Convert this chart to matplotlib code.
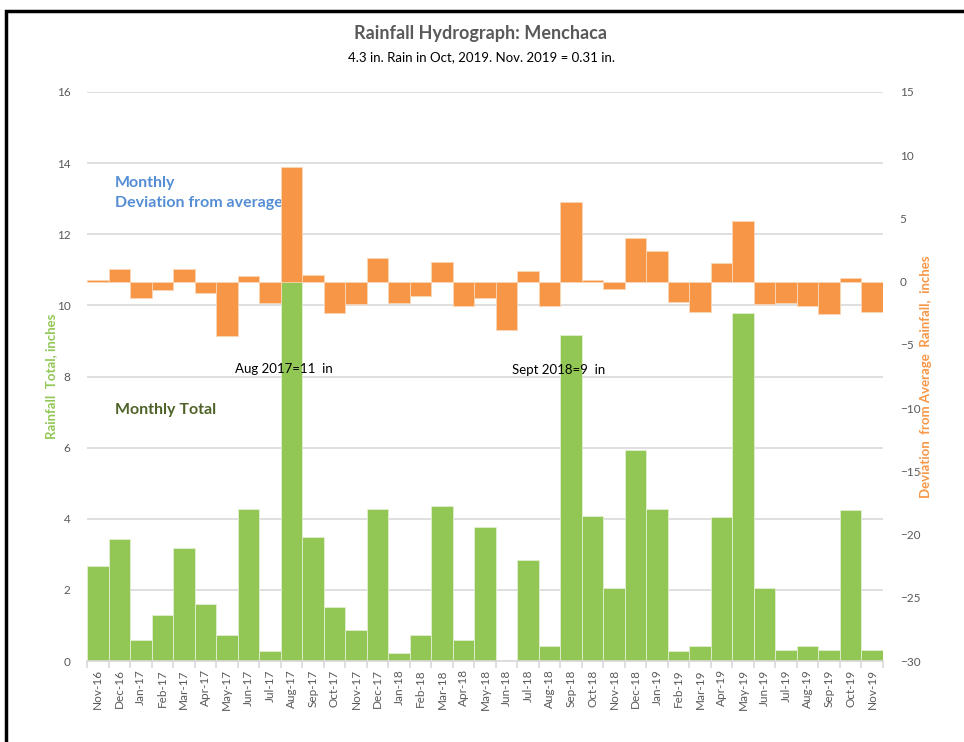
import numpy as np
import matplotlib.pyplot as plt
from matplotlib.patches import Rectangle

plt.rcParams['font.family'] = ['Lato', 'DejaVu Sans']

# 数据
months = ['Nov-16', 'Dec-16', 'Jan-17', 'Feb-17', 'Mar-17', 'Apr-17', 'May-17', 'Jun-17',
          'Jul-17', 'Aug-17', 'Sep-17', 'Oct-17', 'Nov-17', 'Dec-17', 'Jan-18', 'Feb-18',
          'Mar-18', 'Apr-18', 'May-18', 'Jun-18', 'Jul-18', 'Aug-18', 'Sep-18', 'Oct-18',
          'Nov-18', 'Dec-18', 'Jan-19', 'Feb-19', 'Mar-19', 'Apr-19', 'May-19', 'Jun-19',
          'Jul-19', 'Aug-19', 'Sep-19', 'Oct-19', 'Nov-19']
rain_total = [2.67, 3.42, 0.60, 1.29, 3.18, 1.60, 0.73, 4.27, 0.29, 10.9, 3.49, 1.51, 0.88,
              4.27, 0.22, 0.73, 4.37, 0.60, 3.77, 0.0, 2.83, 0.42, 9.17, 4.08, 2.04, 5.93,
              4.27, 0.29, 0.42, 4.05, 9.79, 2.04, 0.32, 0.42, 0.32, 4.24, 0.31]
deviation = [0.1, 1.0, -1.32, -0.69, 1.0, -0.87, -4.30, 0.45, -1.66, 9.1, 0.53, -2.45, -1.77,
             1.85, -1.66, -1.13, 1.58, -1.93, -1.32, -3.85, 0.87, -1.93, 6.28, 0.1, -0.61,
             3.43, 2.40, -1.58, -2.37, 1.48, 4.78, -1.77, -1.69, -1.93, -2.56, 0.26, -2.37]

green = '#92C755'
orange = '#F79646'
grey = '#595959'

fig = plt.figure(figsize=(9.64, 7.42), dpi=100)
ax = fig.add_axes([87/964, 1-661/742, (883-87)/964, (661-92)/742])
ax2 = ax.twinx()

x = np.arange(len(months))
ax.bar(x, rain_total, width=1.0, color=green, edgecolor='#E2F0D0', linewidth=0.6, zorder=2)
ax.set_ylim(0, 16)
ax.set_xlim(-0.5, len(months) - 0.5)
ax.set_yticks(range(0, 17, 2))
ax.grid(axis='y', color='#D9D9D9', linewidth=1.2, zorder=0)
ax.set_axisbelow(True)

ax2.bar(x, deviation, width=1.0, color=orange, edgecolor='#FBD5B5', linewidth=0.6, zorder=3)
ax2.set_ylim(-30, 15)
ax2.set_yticks(range(-30, 16, 5))

ax.set_xticks(x)
ax.set_xticklabels(months, rotation=90, fontsize=8.5, color=grey)
ax.set_xticks(np.arange(-0.5, len(months)), minor=True)
ax.tick_params(axis='x', which='major', length=0, pad=6)
ax.tick_params(axis='x', which='minor', length=5, color='#D9D9D9', width=1.2)
ax.tick_params(axis='y', length=0, labelsize=8.5, labelcolor=grey, pad=12)
ax2.tick_params(axis='y', length=0, labelsize=8.5, labelcolor=grey, pad=12)

for a in (ax, ax2):
    for s in a.spines.values():
        s.set_visible(False)
ax.spines['bottom'].set_visible(True)
ax.spines['bottom'].set_color('#D9D9D9')
ax.spines['bottom'].set_linewidth(1.2)

ax.set_ylabel('Rainfall  Total, inches', color=green, fontsize=9.5, fontweight='bold')
ax.yaxis.set_label_coords((57 - 87) / 796, 0.5)
ax2.set_ylabel('Deviation  from Average  Rainfall,  inches', color=orange, fontsize=9.5,
               fontweight='bold')
ax2.yaxis.set_label_coords((920 - 87) / 796, 0.5)

# 文字注释
fig.text(481/964, 1-34/742, 'Rainfall Hydrograph: Menchaca', ha='center', va='center',
         fontsize=13, fontweight='bold', color=grey)
fig.text(481/964, 1-57/742, '4.3 in. Rain in Oct, 2019. Nov. 2019 = 0.31 in.', ha='center',
         va='center', fontsize=9.5, color='black')
ax.text(0.8, 13.65, 'Monthly\nDeviation from average', color='#558ED5', fontsize=11.5,
        fontweight='bold', va='top', linespacing=1.55)
ax.text(0.8, 7.06, 'Monthly Total', color='#4F6228', fontsize=11.5, fontweight='bold',
        va='center')
ax.text(8.63, 8.2, 'Aug 2017=11  in', ha='center', va='center', fontsize=9.5, color='black',
        zorder=5)
ax2.text(21.4, -7.0, 'Sept 2018=9  in', ha='center', va='center', fontsize=9.5, color='black',
         zorder=5)

fig.patches.append(Rectangle((6/964, -0.01), 1.0, 1 - 11/742 + 0.01, transform=fig.transFigure,
                             fill=False, edgecolor='black', linewidth=2.5))

fig.savefig('out.png', dpi=100)
